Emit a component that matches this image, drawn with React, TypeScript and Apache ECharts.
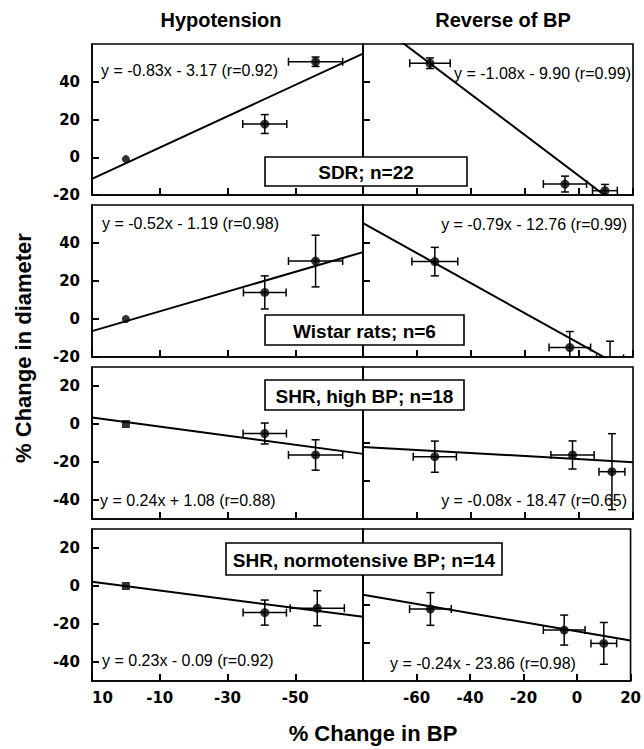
import React, { useEffect, useRef } from 'react';
import * as echarts from 'echarts';

// ---------------- data ----------------
const columnTitles = ['Hypotension', 'Reverse of BP'];
const groupLabels = ['SDR; n=22', 'Wistar rats; n=6', 'SHR, high BP; n=18', 'SHR, normotensive BP; n=14'];

// points: [x (% change BP), y (% change diameter), x error, y error]
const hypoSDR = [[0, -1, 0, 0], [-41, 17.6, 6.5, 5], [-56, 50.6, 8, 2.5]];
const hypoWistar = [[0, 0, 0, 0], [-41, 14, 6.3, 8.7], [-56, 30.5, 8, 13.6]];
const hypoSHRHigh = [[0, 0, 0, 0], [-41, -5, 6.4, 5.5], [-56, -16.3, 8, 8]];
const hypoSHRNorm = [[0, 0, 0, 0], [-41, -14, 6.4, 6.6], [-56.5, -11.7, 8, 9.2]];

const revSDR = [[-55.2, 49.8, 7.5, 2.8], [-5.2, -14.2, 8, 4.2], [9.6, -17.7, 4.6, 3.3]];
const revWistar = [[-53.4, 30.2, 8.5, 7.5], [-3.4, -15, 7.7, 8.4], [11.5, -20.7, 5, 9]];
const revSHRHigh = [[-53.4, -17.2, 8, 8.2], [-2.4, -16.3, 8, 7.4], [12.2, -25.1, 4.8, 20]];
const revSHRNorm = [[-54.8, -12.1, 7.8, 8.6], [-4.8, -23.2, 7.8, 7.9], [10, -30.2, 4.8, 11]];

// regression lines (from the printed equations)
const hypoSlopes = [-0.83, -0.52, 0.24, 0.23];
const hypoIntercepts = [-3.17, -1.19, 1.08, -0.09];
const revSlopes = [-1.08, -0.79, -0.08, -0.24];
const revIntercepts = [-9.9, -12.76, -18.47, -23.86];

const hypoEquations = [
  'y = -0.83x - 3.17 (r=0.92)',
  'y = -0.52x - 1.19 (r=0.98)',
  'y = 0.24x + 1.08 (r=0.88)',
  'y = 0.23x - 0.09 (r=0.92)',
];
const revEquations = [
  'y = -1.08x - 9.90 (r=0.99)',
  'y = -0.79x - 12.76 (r=0.99)',
  'y = -0.08x - 18.47 (r=0.65)',
  'y = -0.24x - 23.86 (r=0.98)',
];

// axes
const hypoXRange = [-70, 10];
const revXRange = [-80, 20];
const yRangesTop = [-20, 60];
const yRangesBottom = [-50, 30];
const yLabelsTop = [-20, 0, 20, 40];
const yLabelsBottom = [-40, -20, 0, 20];
const revYTicksTop = [0, 20, 40];
const revYTicksBottom = [-30, -10, 10];

const xAxisTitle = '% Change in BP';
const yAxisTitle = '% Change in diameter';

// ---------------- layout ----------------
const gridTops = [44, 205, 367, 529];
const gridHeights = [151, 152, 152, 152];
const colLefts = [92, 363];
const colWidths = [271, 270];

const boxes = [
  { x: 265, y: 157, w: 202, h: 29 },
  { x: 265, y: 315, w: 199, h: 30 },
  { x: 265, y: 380, w: 199, h: 30 },
  { x: 226, y: 543, w: 276, h: 32 },
];
const hypoEqPos = [[101, 70], [102, 223], [100, 500], [102, 660]];
const revEqPos = [[454, 73, 'left'], [627, 224, 'right'], [627, 500, 'right'], [390, 663, 'left']];

const tickFont = { fontFamily: 'DejaVu Sans', fontWeight: 'bold' as const, fontSize: 15, color: '#000' };
const tickStyle = { color: '#000', width: 2 };

export default function App() {
  const ref = useRef<HTMLDivElement>(null);

  useEffect(() => {
    if (!ref.current) return;
    const chart = echarts.init(ref.current, null, { renderer: 'svg' });

    const hypoData = [hypoSDR, hypoWistar, hypoSHRHigh, hypoSHRNorm];
    const revData = [revSDR, revWistar, revSHRHigh, revSHRNorm];

    const grids: any[] = [];
    const xAxes: any[] = [];
    const yAxes: any[] = [];
    const series: any[] = [];

    const errorRender = (params: any, api: any) => {
      const x = api.value(0);
      const y = api.value(1);
      const xe = api.value(2);
      const ye = api.value(3);
      const cap = 4;
      const style = { stroke: '#000', lineWidth: 1.5 };
      const children: any[] = [];
      if (xe > 0) {
        const a = api.coord([x - xe, y]);
        const b = api.coord([x + xe, y]);
        children.push({ type: 'line', shape: { x1: a[0], y1: a[1], x2: b[0], y2: b[1] }, style });
        children.push({ type: 'line', shape: { x1: a[0], y1: a[1] - cap, x2: a[0], y2: a[1] + cap }, style });
        children.push({ type: 'line', shape: { x1: b[0], y1: b[1] - cap, x2: b[0], y2: b[1] + cap }, style });
      }
      if (ye > 0) {
        const a = api.coord([x, y - ye]);
        const b = api.coord([x, y + ye]);
        children.push({ type: 'line', shape: { x1: a[0], y1: a[1], x2: b[0], y2: b[1] }, style });
        children.push({ type: 'line', shape: { x1: a[0] - cap, y1: a[1], x2: a[0] + cap, y2: a[1] }, style });
        children.push({ type: 'line', shape: { x1: b[0] - cap, y1: b[1], x2: b[0] + cap, y2: b[1] }, style });
      }
      return { type: 'group', children };
    };

    for (let row = 0; row < 4; row++) {
      const isTop = row < 2;
      const yr = isTop ? yRangesTop : yRangesBottom;
      for (let col = 0; col < 2; col++) {
        const gi = row * 2 + col;
        grids.push({
          left: colLefts[col],
          top: gridTops[row],
          width: colWidths[col],
          height: gridHeights[row],
          show: true,
          borderColor: '#000',
          borderWidth: 1.6,
          backgroundColor: 'transparent',
          z: 0,
        });
        const xr = col === 0 ? hypoXRange : revXRange;
        xAxes.push({
          gridIndex: gi,
          type: 'value',
          min: xr[0],
          max: xr[1],
          interval: 20,
          inverse: col === 0,
          z: 10,
          axisLine: { show: true, onZero: false, lineStyle: { color: '#000', width: 1.6 } },
          splitLine: { show: false },
          axisTick: { show: true, inside: true, length: 7, lineStyle: tickStyle },
          axisLabel: {
            show: row === 3,
            showMinLabel: false,
            alignMaxLabel: col === 0 ? 'left' : undefined,
            margin: 9,
            ...tickFont,
          },
        });
        yAxes.push({
          gridIndex: gi,
          type: 'value',
          min: yr[0],
          max: yr[1],
          z: 10,
          axisLine: { show: true, onZero: false, lineStyle: { color: '#000', width: 1.6 } },
          splitLine: { show: false },
          axisTick: {
            show: true,
            inside: true,
            length: 7,
            lineStyle: tickStyle,
            customValues: col === 0 ? (isTop ? yLabelsTop : yLabelsBottom) : (isTop ? revYTicksTop : revYTicksBottom),
          },
          axisLabel: {
            show: col === 0,
            margin: 12,
            customValues: isTop ? yLabelsTop : yLabelsBottom,
            ...tickFont,
          },
        });

        const pts = col === 0 ? hypoData[row] : revData[row];
        const slope = col === 0 ? hypoSlopes[row] : revSlopes[row];
        const intercept = col === 0 ? hypoIntercepts[row] : revIntercepts[row];

        series.push({
          type: 'line',
          xAxisIndex: gi,
          yAxisIndex: gi,
          data: [
            [xr[0], slope * xr[0] + intercept],
            [xr[1], slope * xr[1] + intercept],
          ],
          showSymbol: false,
          symbol: 'none',
          clip: true,
          lineStyle: { color: '#000', width: 2 },
          silent: true,
          z: 2,
        });
        series.push({
          type: 'custom',
          xAxisIndex: gi,
          yAxisIndex: gi,
          data: pts,
          renderItem: errorRender,
          clip: true,
          silent: true,
          z: 3,
        });
        series.push({
          type: 'scatter',
          xAxisIndex: gi,
          yAxisIndex: gi,
          data: pts.map((p) => {
            const baseline = p[2] === 0 && p[3] === 0;
            return {
              value: [p[0], p[1]],
              symbol: baseline && row >= 2 ? 'rect' : 'circle',
              symbolSize: baseline ? 8 : 9,
            };
          }),
          itemStyle: { color: '#000' },
          silent: true,
          z: 4,
        });
      }
    }

    const graphics: any[] = [];
    graphics.push({
      type: 'text',
      style: { text: columnTitles[0], x: 221, y: 20, align: 'center', verticalAlign: 'middle', fontFamily: 'Liberation Sans', fontWeight: 'bold', fontSize: 20, fill: '#000' },
    });
    graphics.push({
      type: 'text',
      style: { text: columnTitles[1], x: 503, y: 20, align: 'center', verticalAlign: 'middle', fontFamily: 'Liberation Sans', fontWeight: 'bold', fontSize: 20, fill: '#000' },
    });
    graphics.push({
      type: 'text',
      x: 23,
      y: 348,
      rotation: Math.PI / 2,
      style: { text: yAxisTitle, x: 0, y: 0, align: 'center', verticalAlign: 'middle', fontFamily: 'Liberation Sans', fontWeight: 'bold', fontSize: 22, fill: '#000' },
    });
    graphics.push({
      type: 'text',
      style: { text: xAxisTitle, x: 373, y: 733, align: 'center', verticalAlign: 'middle', fontFamily: 'Liberation Sans', fontWeight: 'bold', fontSize: 22, fill: '#000' },
    });
    for (let row = 0; row < 4; row++) {
      const b = boxes[row];
      graphics.push({
        type: 'rect',
        z: 100,
        shape: { x: b.x, y: b.y, width: b.w, height: b.h },
        style: { fill: '#fff', stroke: '#000', lineWidth: 1.6 },
      });
      graphics.push({
        type: 'text',
        z: 101,
        style: {
          text: groupLabels[row], x: b.x + b.w / 2, y: b.y + b.h / 2 + 1, align: 'center', verticalAlign: 'middle',
          fontFamily: 'Liberation Sans', fontWeight: 'bold', fontSize: 19, fill: '#000',
        },
      });
      const hp = hypoEqPos[row];
      graphics.push({
        type: 'text',
        z: 101,
        style: { text: hypoEquations[row], x: hp[0], y: hp[1], align: 'left', verticalAlign: 'middle', fontFamily: 'Liberation Sans', fontSize: 16, fill: '#000' },
      });
      const rp = revEqPos[row];
      graphics.push({
        type: 'text',
        z: 101,
        style: { text: revEquations[row], x: rp[0], y: rp[1], align: rp[2], verticalAlign: 'middle', fontFamily: 'Liberation Sans', fontSize: 16, fill: '#000' },
      });
    }

    chart.setOption({
      animation: false,
      backgroundColor: '#fff',
      grid: grids,
      xAxis: xAxes,
      yAxis: yAxes,
      series,
      graphic: { elements: graphics },
    });

    return () => chart.dispose();
  }, []);

  return <div ref={ref} style={{ position: 'absolute', left: 0, top: 0, width: 644, height: 749 }} />;
}
